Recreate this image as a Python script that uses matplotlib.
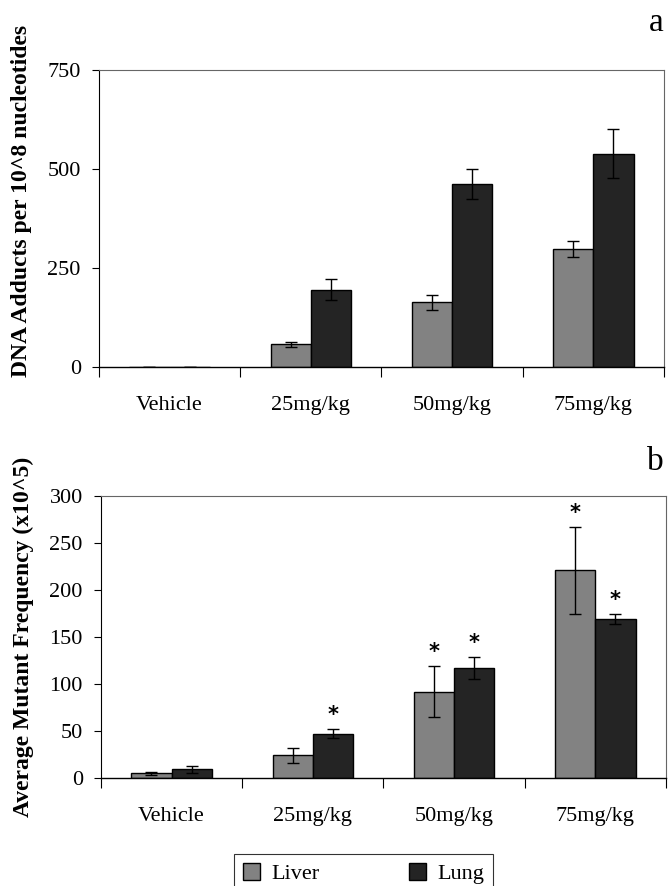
import numpy as np
import matplotlib
matplotlib.use("Agg")
import matplotlib.pyplot as plt
from matplotlib.ticker import FixedLocator

plt.rcParams['font.family'] = ['Liberation Serif', 'DejaVu Serif']

# data
groups = ["Vehicle", "25mg/kg", "50mg/kg", "75mg/kg"]

adduct_liver = [0, 57, 163, 298]
adduct_liver_err = [0, 6, 19, 21]
adduct_lung = [0, 195, 462, 538]
adduct_lung_err = [0, 27, 37, 62]

mf_liver = [5, 24, 92, 221]
mf_liver_err = [1.5, 8, 27, 46]
mf_lung = [9, 47, 117, 169]
mf_lung_err = [3.5, 5, 12, 5]
# asterisks (significant vs vehicle)
mf_liver_sig = [False, False, True, True]
mf_lung_sig = [False, True, True, True]

liver_color = "#828282"
lung_color = "#242424"
bar_w = 0.285

fig = plt.figure(figsize=(6.68, 8.86), dpi=100)
ax1 = fig.add_axes([0.148, 0.586, 0.846, 0.335])
ax2 = fig.add_axes([0.151, 0.122, 0.846, 0.318])

x = np.arange(len(groups))


def draw_panel(ax, liver, liver_err, lung, lung_err, ymax, step, ylabel, label_y):
    ax.bar(x - bar_w / 2, liver, bar_w, color=liver_color, edgecolor="black",
           linewidth=1, label="Liver", zorder=2)
    ax.bar(x + bar_w / 2, lung, bar_w, color=lung_color, edgecolor="black",
           linewidth=1, label="Lung", zorder=2)
    for xs, vals, errs in [(x - bar_w / 2, liver, liver_err), (x + bar_w / 2, lung, lung_err)]:
        ax.errorbar(xs, vals, yerr=errs, fmt="none", ecolor="black",
                    elinewidth=1, capsize=4, capthick=1, zorder=3)
    ax.set_xlim(-0.5, len(groups) - 0.5)
    ax.set_ylim(0, ymax)
    ax.set_yticks(np.arange(0, ymax + 1, step))
    ax.set_xticks(x)
    ax.set_xticklabels(groups)
    ax.xaxis.set_minor_locator(FixedLocator(np.arange(-0.5, len(groups), 1.0)))
    ax.tick_params(axis="x", which="major", length=0, pad=21, labelsize=16)
    ax.tick_params(axis="x", which="minor", length=7, direction="out", width=0.8)
    ax.tick_params(axis="y", length=5, direction="out", pad=8, labelsize=16)
    for side in ["top", "right"]:
        ax.spines[side].set_color("#666666")
        ax.spines[side].set_linewidth(0.8)
    ax.spines["left"].set_linewidth(0.8)
    ax.spines["bottom"].set_linewidth(1.0)
    ax.set_ylabel(ylabel, fontsize=17, fontweight="bold")
    ax.yaxis.set_label_coords(-0.118, label_y)


draw_panel(ax1, adduct_liver, adduct_liver_err, adduct_lung, adduct_lung_err,
           750, 250, "DNA Adducts per 10^8 nucleotides", 0.56)
draw_panel(ax2, mf_liver, mf_liver_err, mf_lung, mf_lung_err,
           300, 50, "Average Mutant Frequency (x10^5)", 0.5)

# significance stars
for xs, vals, errs, sig in [(x - bar_w / 2, mf_liver, mf_liver_err, mf_liver_sig),
                            (x + bar_w / 2, mf_lung, mf_lung_err, mf_lung_sig)]:
    for xi, v, e, s in zip(xs, vals, errs, sig):
        if s:
            ax2.annotate("*", xy=(xi, v + e), xytext=(0, 3), textcoords="offset points",
                         ha="center", va="bottom", fontsize=15, fontweight="bold",
                         family=["DejaVu Sans"])

fig.text(0.993, 0.974, "a", ha="right", va="center", fontsize=24)
fig.text(0.993, 0.479, "b", ha="right", va="center", fontsize=24)

handles, labels = ax2.get_legend_handles_labels()
leg = fig.legend(handles, labels, loc="upper left", bbox_to_anchor=(0.350, 0.036),
                 ncol=2, fontsize=16, frameon=True, fancybox=False,
                 edgecolor="black", handlelength=0.8, handleheight=0.8,
                 handletextpad=0.5, columnspacing=4.0, borderpad=0.4,
                 borderaxespad=0)
leg.get_frame().set_linewidth(0.8)

fig.savefig("out.png", dpi=100)
